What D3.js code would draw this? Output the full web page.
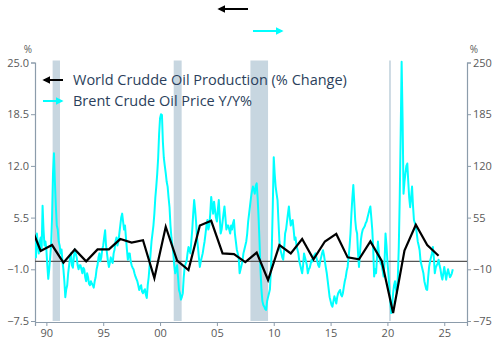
<!DOCTYPE html>
<html>
<head>
<meta charset="utf-8">
<script src="https://cdn.jsdelivr.net/npm/d3@7"></script>
<style>
  body { margin: 0; background: #fff; }
  svg { display: block; font-family: "Open Sans", sans-serif; }
</style>
</head>
<body>
<svg id="chart" width="500" height="352"></svg>
<script>
// world crude oil production, % change (left axis), one value per year from 1988
var prodStart = 1988;
var prodValues = [4.9, 1.3, 2.05, -0.17, 1.5, 0.0, 1.5, 1.5, 2.8, 2.35,
                  2.65, -2.1, 4.35, 0.1, -1.1, 4.5, 5.1, 1.0, 0.9, -0.1,
                  1.1, -2.35, 2.05, 1.0, 2.8, 0.25, 2.5, 3.45, 0.5, 0.25,
                  2.5, 0.05, -6.5, 1.35, 4.6, 2.05, 0.7];

// brent y/y % (right axis), monthly from Jan 1989
var brentStart = 1989;
var brentPerYear = 12;
var brentValues = [
  30, 5, 35, 20, 10, 25, 30, 15, 70, 40, 20, 25,            // 1989
  15, -5, -22, -10, 5, 20, 55, 110, 136, 100, 70, 45,       // 1990
  40, 25, 20, 10, 15, 0, -10, -25, -45, -35, -30, -15,      // 1991
  -5, 5, 10, -5, -8, 5, 15, 10, 5, -5, -10, -5,             // 1992
  -5, -10, -15, -8, -10, -20, -25, -15, -20, -28, -30, -25, // 1993
  -28, -30, -33, -25, -20, -10, -5, 5, 10, 0, 5, 15,        // 1994
  20, 30, 39, 20, 10, 0, -7, -2, 5, 0, -2, 10,              // 1995
  15, 25, 30, 20, 25, 35, 45, 55, 60, 50, 40, 45,           // 1996
  30, 15, 2, 10, 10, 0, -5, -8, -10, -15, -19, -22,         // 1997
  -25, -30, -36, -32, -30, -38, -40, -37, -35, -42, -46, -30, // 1998
  -20, -5, 10, 25, 35, 45, 60, 80, 94, 110, 130, 160,       // 1999
  180, 185, 184, 150, 130, 120, 111, 100, 94, 80, 68, 45,   // 2000
  30, 20, 10, -5, -15, -10, -5, -20, -36, -40, -48, -45,    // 2001
  -40, -20, -7, -3, 0, 10, 18, 15, 10, 25, 40, 60,          // 2002
  77, 65, 50, 30, 18, 5, -7, 0, 5, 10, 18, 25,              // 2003
  35, 45, 52, 40, 45, 60, 81, 70, 60, 75, 65, 55,           // 2004
  50, 65, 77, 55, 35, 40, 50, 60, 69, 55, 40, 45,           // 2005
  45, 40, 35, 45, 40, 48, 52, 35, 25, 15, 10, 5,            // 2006
  -15, -10, -5, 0, 10, 15, 20, 25, 35, 50, 60, 70,          // 2007
  80, 88, 94, 90, 85, 95, 98, 80, 55, 25, -10, -35,         // 2008
  -50, -55, -57, -60, -61, -50, -45, -40, -35, -10, 18, 70, // 2009
  131, 110, 94, 85, 77, 50, 25, 15, 10, 5, 2, 15,           // 2010
  35, 40, 50, 60, 69, 55, 45, 50, 52, 40, 27, 30,           // 2011
  20, 15, 10, 0, -5, -10, -15, -5, 10, 5, 0, -5,            // 2012
  -15, -10, -8, -3, 2, 0, 5, 8, 10, 5, 0, -5,               // 2013
  -7, 0, 5, 10, 14, 8, 0, -8, -15, -25, -35, -45,           // 2014
  -50, -55, -57, -50, -44, -48, -53, -45, -40, -38, -36, -42, // 2015
  -44, -40, -32, -25, -20, -12, -7, 5, 18, 35, 60, 80,      // 2016
  96, 75, 52, 40, 35, 10, -7, 10, 27, 35, 40, 42,           // 2017
  44, 48, 50, 55, 60, 65, 69, 55, 40, 15, -19, -10,         // 2018
  -15, 5, 25, 10, 2, -3, -5, -12, -19, 0, 35, 20,           // 2019
  0, -15, -32, -50, -65, -55, -40, -30, -25, -35, -40, -20, // 2020
  18, 80, 161, 251, 180, 85, 100, 111, 120, 123, 100, 80,   // 2021
  68, 80, 94, 70, 52, 48, 44, 35, 25, 20, 14, 0,            // 2022
  -5, -10, -15, -25, -30, -35, -36, -20, -7, 0, 5, 10,      // 2023
  18, 5, -15, -8, -5, -3, 2, -5, -10, -18, -23, -15,        // 2024
  -7, -15, -23, -15, -10, -15, -20, -18, -15, -10           // 2025
];

// recession shading [start, end]
var recessions = [[1990.55, 1991.2], [2001.2, 2001.9], [2007.95, 2009.5], [2020.15, 2020.3]];

var xTicks = [1990, 1995, 2000, 2005, 2010, 2015, 2020, 2025];
var leftTicks = [-7.5, -1.0, 5.5, 12.0, 18.5, 25.0];
var rightTicks = [-75, -10, 55, 120, 185, 250];

var legendLabels = ["World Crudde Oil Production (% Change)", "Brent Crude Oil Price Y/Y%"];

var margin = {left: 35, right: 33, top: 62.5, bottom: 31};
var W = 500, H = 352;
var axisColor = "#8c9cab";
var labelColor = "#595959";

var svg = d3.select("#chart");

var x = d3.scaleLinear().domain([1989, 2027]).range([margin.left, W - margin.right]);
var yL = d3.scaleLinear().domain([-7.5, 25]).range([H - margin.bottom, margin.top]);
var yR = d3.scaleLinear().domain([-75, 250]).range([H - margin.bottom, margin.top]);

var defs = svg.append("defs");
defs.append("clipPath").attr("id", "plotclip")
  .append("rect")
  .attr("x", margin.left).attr("y", margin.top - 3)
  .attr("width", W - margin.left - margin.right)
  .attr("height", H - margin.top - margin.bottom + 3);

// arrowheads
function marker(id, color) {
  defs.append("marker")
    .attr("id", id)
    .attr("viewBox", "0 0 10 10")
    .attr("refX", 8).attr("refY", 5)
    .attr("markerWidth", 4).attr("markerHeight", 4)
    .attr("orient", "auto")
    .append("path").attr("d", "M0,0 L10,5 L0,10 z").attr("fill", color);
}
marker("arrBlack", "#000");
marker("arrCyan", "#00ffff");

// recession bands
svg.append("g").selectAll("rect")
  .data(recessions)
  .enter().append("rect")
    .attr("x", function(d) { return x(d[0]); })
    .attr("y", margin.top - 2)
    .attr("width", function(d) { return x(d[1]) - x(d[0]); })
    .attr("height", H - margin.bottom - margin.top + 2)
    .style("fill", "#c7d6e0");

// axes
var xAxis = d3.axisBottom(x).tickValues(xTicks).tickSize(4)
  .tickFormat(function(d) { return String(d).slice(2); });
var gx = svg.append("g")
  .attr("transform", "translate(0," + (H - margin.bottom + 1) + ")")
  .call(xAxis);

var gl = svg.append("g")
  .attr("transform", "translate(" + margin.left + ",0)")
  .call(d3.axisLeft(yL).tickValues(leftTicks).tickSize(4).tickFormat(d3.format(".1f")));

var gr = svg.append("g")
  .attr("transform", "translate(" + (W - margin.right) + ",0)")
  .call(d3.axisRight(yR).tickValues(rightTicks).tickSize(4).tickFormat(d3.format("d")));

[gx, gl, gr].forEach(function(g) {
  g.select(".domain").attr("stroke", axisColor).attr("stroke-width", 1.2);
  g.selectAll(".tick line").attr("stroke", axisColor);
  g.selectAll(".tick text")
    .attr("fill", labelColor)
    .style("font-size", "11px")
    .style("font-family", "Open Sans, sans-serif");
});
gl.selectAll(".tick text").attr("x", -6);
gr.selectAll(".tick text").attr("x", 6);
gx.selectAll(".tick text").attr("y", 7);

svg.append("text").attr("x", 28).attr("y", 53).attr("text-anchor", "middle")
  .attr("fill", labelColor).style("font-size", "10px").text("%");
svg.append("text").attr("x", 474).attr("y", 53).attr("text-anchor", "middle")
  .attr("fill", labelColor).style("font-size", "10px").text("%");

// zero line
svg.append("line")
  .attr("x1", margin.left).attr("x2", W - margin.right)
  .attr("y1", yL(0)).attr("y2", yL(0))
  .attr("stroke", "#555").attr("stroke-width", 1.2);

var plot = svg.append("g").attr("clip-path", "url(#plotclip)");

var brentLine = d3.line()
  .x(function(d, i) { return x(brentStart + i / brentPerYear); })
  .y(function(d) { return yR(d); });

plot.append("path")
  .datum(brentValues)
  .attr("d", brentLine)
  .attr("fill", "none")
  .attr("stroke", "#00ffff")
  .attr("stroke-width", 2)
  .attr("stroke-linejoin", "round");

var prodLine = d3.line()
  .x(function(d, i) { return x(prodStart + 0.5 + i); })
  .y(function(d) { return yL(d); });

plot.append("path")
  .datum(prodValues)
  .attr("d", prodLine)
  .attr("fill", "none")
  .attr("stroke", "#000")
  .attr("stroke-width", 2.2)
  .attr("stroke-linejoin", "miter");

// axis-side arrows on top
svg.append("line").attr("x1", 248).attr("x2", 219).attr("y1", 9).attr("y2", 9)
  .attr("stroke", "#000").attr("stroke-width", 2).attr("marker-end", "url(#arrBlack)");
svg.append("line").attr("x1", 253).attr("x2", 282).attr("y1", 31).attr("y2", 31)
  .attr("stroke", "#00ffff").attr("stroke-width", 2).attr("marker-end", "url(#arrCyan)");

// legend
var legend = svg.append("g");
legend.append("line").attr("x1", 63).attr("x2", 44).attr("y1", 80).attr("y2", 80)
  .attr("stroke", "#000").attr("stroke-width", 2).attr("marker-end", "url(#arrBlack)");
legend.append("line").attr("x1", 43).attr("x2", 62).attr("y1", 101).attr("y2", 101)
  .attr("stroke", "#00ffff").attr("stroke-width", 2).attr("marker-end", "url(#arrCyan)");
legend.selectAll("text")
  .data(legendLabels)
  .enter().append("text")
    .attr("x", 73)
    .attr("y", function(d, i) { return 85 + i * 21; })
    .attr("fill", "#2b3f5c")
    .style("font-size", "14.5px")
    .text(function(d) { return d; });
</script>
</body>
</html>
